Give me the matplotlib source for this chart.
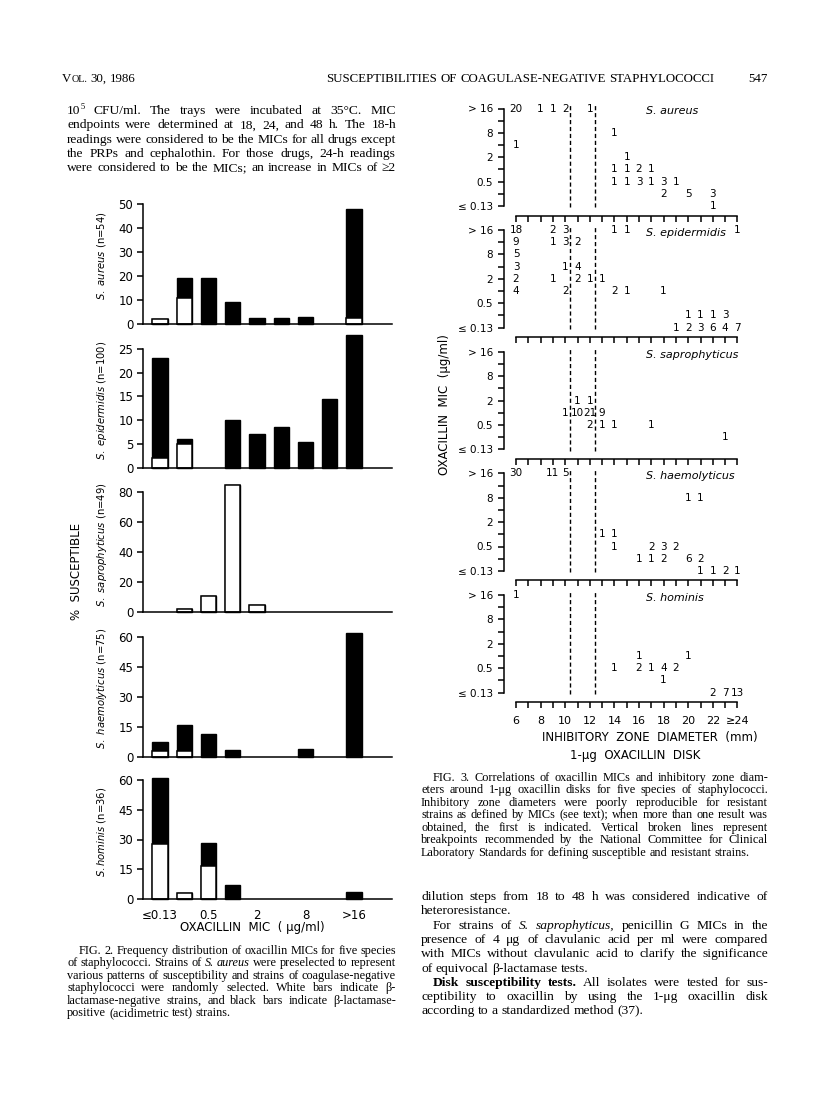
import matplotlib
matplotlib.use('Agg')
import matplotlib.pyplot as plt

W, H = 816, 1094
fig = plt.figure(figsize=(W / 100, H / 100), dpi=100)
fig.patch.set_facecolor('white')
renderer = fig.canvas.get_renderer()

SANS = 'DejaVu Sans'
SERIF = ['Liberation Serif', 'DejaVu Serif']

# ---------------- Fig. 2 data (% of strains) ----------------
mic_categories = ['≤0.13', '0.25', '0.5', '1', '2', '4', '8', '16', '>16']
fig2_tick_labels = ['≤0.13', '', '0.5', '', '2', '', '8', '', '>16']

aureus_total = [2, 19, 19, 9, 2.5, 2.5, 3, 0, 48]
aureus_white = [2, 11, 0, 0, 0, 0, 0, 0, 2.5]
epidermidis_total = [23, 6, 0, 10, 7, 8.5, 5.5, 14.5, 28]
epidermidis_white = [2, 5, 0, 0, 0, 0, 0, 0, 0]
saprophyticus_total = [0, 2.5, 11, 85, 5, 0, 0, 0, 0]
saprophyticus_white = [0, 2.5, 11, 85, 5, 0, 0, 0, 0]
haemolyticus_total = [7.5, 16, 11.5, 3.5, 0, 0, 4, 0, 62]
haemolyticus_white = [2.7, 2.7, 0, 0, 0, 0, 0, 0, 0]
hominis_total = [61, 3, 28, 7, 0, 0, 0, 0, 3.5]
hominis_white = [27.5, 3, 16.5, 0, 0, 0, 0, 0, 0]

fig2_species = [r'$\mathit{S.\ aureus}$ (n=54)', r'$\mathit{S.\ epidermidis}$ (n=100)',
                r'$\mathit{S.\ saprophyticus}$ (n=49)', r'$\mathit{S.\ haemolyticus}$ (n=75)',
                r'$\mathit{S.hominis}$ (n=36)']
fig2_ymax = [50, 25, 80, 60, 60]
fig2_ystep = [10, 5, 20, 15, 15]

# ---------------- Fig. 3 data (zone mm, MIC, number of strains) ----------------
aureus_zone = [6, 8, 9, 10, 12, 14, 6, 15, 14, 15, 16, 17, 14, 15, 16, 17, 18, 19, 18, 20, 22, 22]
aureus_mic = ['>16'] * 5 + ['8', '4', '2'] + ['1'] * 4 + ['0.5'] * 6 + ['0.25'] * 3 + ['≤0.13']
aureus_count = [20, 1, 1, 2, 1, 1, 1, 1, 1, 1, 2, 1, 1, 1, 3, 1, 3, 1, 2, 5, 3, 1]

epidermidis_zone = [6, 9, 10, 14, 15, 24, 6, 9, 10, 11, 6, 6, 10, 11, 6, 9, 11, 12, 13,
                    6, 10, 14, 15, 18, 20, 21, 22, 23, 19, 20, 21, 22, 23, 24]
epidermidis_mic = (['>16'] * 6 + ['16'] * 4 + ['8'] + ['4'] * 3 + ['2'] * 5 + ['1'] * 5
                   + ['0.25'] * 4 + ['≤0.13'] * 6)
epidermidis_count = [18, 2, 3, 1, 1, 1, 9, 1, 3, 2, 5, 3, 1, 4, 2, 1, 2, 1, 1,
                     4, 2, 2, 1, 1, 1, 1, 1, 3, 1, 2, 3, 6, 4, 7]

saprophyticus_zone = [11, 12, 10, 11, 12, 13, 12, 13, 14, 17, 23]
saprophyticus_mic = ['2'] * 2 + ['1'] * 4 + ['0.5'] * 4 + ['0.25']
saprophyticus_count = [1, 1, 1, 10, 21, 9, 2, 1, 1, 1, 1]

haemolyticus_zone = [6, 9, 10, 20, 21, 13, 14, 14, 17, 18, 19, 16, 17, 18, 20, 21, 21, 22, 23, 24]
haemolyticus_mic = (['>16'] * 3 + ['8'] * 2 + ['1'] * 2 + ['0.5'] * 4 + ['0.25'] * 5
                    + ['≤0.13'] * 4)
haemolyticus_count = [30, 11, 5, 1, 1, 1, 1, 1, 2, 3, 2, 1, 1, 2, 6, 2, 1, 1, 2, 1]

hominis_zone = [6, 16, 20, 14, 16, 17, 18, 19, 18, 22, 23, 24]
hominis_mic = ['>16'] + ['1'] * 2 + ['0.5'] * 5 + ['0.25'] + ['≤0.13'] * 3
hominis_count = [1, 1, 1, 1, 2, 1, 4, 2, 1, 2, 7, 13]

fig3_species = ['S. aureus', 'S. epidermidis', 'S. saprophyticus', 'S. haemolyticus', 'S. hominis']
fig3_ytick_labels = ['≤ 0.13', '', '0.5', '', '2', '', '8', '', '> 16']
zone_ticks = list(range(6, 25))
zone_tick_labels = ['6', '8', '10', '12', '14', '16', '18', '20', '22', '≥24']
breakpoints = [10.4, 12.4]

# ---------------- text ----------------
header_left = 'V~OL.~ 30, 1986'
header_mid = 'SUSCEPTIBILITIES OF COAGULASE-NEGATIVE STAPHYLOCOCCI'
header_page = '547'

left_body = [
    '10^5 CFU/ml. The trays were incubated at 35°C. MIC',
    'endpoints were determined at 18, 24, and 48 h. The 18-h',
    'readings were considered to be the MICs for all drugs except',
    'the PRPs and cephalothin. For those drugs, 24-h readings',
    'were considered to be the MICs; an increase in MICs of ≥2',
]
fig2_caption = [
    'FIG.  2.  Frequency distribution of oxacillin MICs for five species',
    'of staphylococci. Strains of _S. aureus_ were preselected to represent',
    'various patterns of susceptibility and strains of coagulase-negative',
    'staphylococci were randomly selected. White bars indicate β-',
    'lactamase-negative strains, and black bars indicate β-lactamase-',
    'positive (acidimetric test) strains.',
]
fig3_caption = [
    'FIG.  3.  Correlations of oxacillin MICs and inhibitory zone diam-',
    'eters around 1-μg oxacillin disks for five species of staphylococci.',
    'Inhibitory zone diameters were poorly reproducible for resistant',
    'strains as defined by MICs (see text); when more than one result was',
    'obtained, the first is indicated. Vertical broken lines represent',
    'breakpoints recommended by the National Committee for Clinical',
    'Laboratory Standards for defining susceptible and resistant strains.',
]
right_body = [
    'dilution steps from 18 to 48 h was considered indicative of',
    'heteroresistance.',
    'For strains of _S. saprophyticus,_ penicillin G MICs in the',
    'presence of 4 μg of clavulanic acid per ml were compared',
    'with MICs without clavulanic acid to clarify the significance',
    'of equivocal β-lactamase tests.',
    '*Disk susceptibility tests.* All isolates were tested for sus-',
    'ceptibility to oxacillin by using the 1-μg oxacillin disk',
    'according to a standardized method (37).',
]


# ---------------- helpers ----------------
def parse_line(s):
    words = []
    state = {'it': False, 'bd': False}
    for tok in s.split(' '):
        if tok == '':
            continue
        segs = []
        cur = ''
        sup = False
        small = False
        for ch in tok:
            if ch in '_*^~':
                if cur:
                    segs.append((cur, state['it'], state['bd'], sup, small))
                    cur = ''
                if ch == '_':
                    state['it'] = not state['it']
                elif ch == '*':
                    state['bd'] = not state['bd']
                elif ch == '^':
                    sup = True
                else:
                    small = not small
            else:
                cur += ch
        if cur:
            segs.append((cur, state['it'], state['bd'], sup, small))
        words.append(segs)
    return words


def draw_line(s, x0, x1, yc, size, justify=True, indent=0.0, family=SERIF, align='left'):
    words = parse_line(s)
    em = size * 100 / 72
    yb = yc + 0.30 * em
    items = []
    for segs in words:
        wt = []
        for (t, it, bd, sup, small) in segs:
            fs = size * (0.62 if sup else (0.78 if small else 1.0))
            txt = fig.text(0, 0, t, fontsize=fs, family=family,
                           style='italic' if it else 'normal',
                           weight='bold' if bd else 'normal',
                           va='baseline', ha='left', color='black')
            w = txt.get_window_extent(renderer).width
            wt.append((txt, w, sup))
        items.append(wt)
    word_w = [sum(w for _, w, _ in wt) for wt in items]
    n = len(items)
    space = 0.25 * em
    natural = sum(word_w) + space * (n - 1)
    if justify and n > 1:
        gap = (x1 - x0 - indent - sum(word_w)) / (n - 1)
        x = x0 + indent
    else:
        gap = space
        if align == 'left':
            x = x0 + indent
        elif align == 'right':
            x = x1 - natural
        else:
            x = (x0 + x1) / 2 - natural / 2
    for wt, ww in zip(items, word_w):
        xx = x
        for txt, w, sup in wt:
            dy = 0.40 * em if sup else 0.0
            txt.set_position((xx / W, 1 - (yb - dy) / H))
            xx += w
        x += ww + gap


def ptext(x, y, s, **kw):
    return fig.text(x / W, 1 - y / H, s, **kw)


# ---------------- page header & body text ----------------
draw_line(header_left, 62, 300, 78, 9.3, justify=False)
draw_line(header_mid, 300, 740, 78, 9.3, justify=False, align='center')
draw_line(header_page, 700, 768, 78, 9.3, justify=False, align='right')

LX0, LX1 = 67, 396
RX0, RX1 = 421, 768
BODY = 9.7
CAP = 8.8
for i, line in enumerate(left_body):
    draw_line(line, LX0, LX1, 110 + 14.3 * i, BODY)

for i, line in enumerate(fig2_caption):
    draw_line(line, LX0, LX1, 950 + 12.5 * i, CAP,
              justify=(i < len(fig2_caption) - 1), indent=12 if i == 0 else 0)

for i, line in enumerate(fig3_caption):
    draw_line(line, RX0, RX1, 777 + 12.5 * i, CAP,
              justify=(i < len(fig3_caption) - 1), indent=12 if i == 0 else 0)

last_lines = {1, 5, 8}
indents = {2: 12, 6: 12}
for i, line in enumerate(right_body):
    draw_line(line, RX0, RX1, 896 + 14.3 * i, BODY,
              justify=(i not in last_lines), indent=indents.get(i, 0))

# ---------------- Fig. 2 ----------------
fig2_totals = [aureus_total, epidermidis_total, saprophyticus_total, haemolyticus_total, hominis_total]
fig2_whites = [aureus_white, epidermidis_white, saprophyticus_white, haemolyticus_white, hominis_white]
fig2_base = [324, 467.7, 612.3, 756.7, 899]
fig2_top = [204, 349, 492.3, 636.7, 780]
BX0, BX1 = 143, 392
C0, DC = 160, 24.25
xs = list(range(len(mic_categories)))
for k in range(5):
    base, top = fig2_base[k], fig2_top[k]
    ax = fig.add_axes([BX0 / W, 1 - base / H, (BX1 - BX0) / W, (base - top) / H])
    ax.set_xlim((BX0 - C0) / DC, (BX1 - C0) / DC)
    ax.set_ylim(0, fig2_ymax[k])
    ax.patch.set_alpha(0)
    tot = fig2_totals[k]
    wh = fig2_whites[k]
    bx = [x for x, v in zip(xs, tot) if v > 0]
    bt = [v for v in tot if v > 0]
    ax.bar(bx, bt, width=0.62, color='black', edgecolor='black', linewidth=1.0, clip_on=False, zorder=2)
    wx = [x for x, v in zip(xs, wh) if v > 0]
    wv = [v for v in wh if v > 0]
    ax.bar(wx, wv, width=0.62, color='white', edgecolor='black', linewidth=1.1, clip_on=False, zorder=3)
    for sp in ['top', 'right']:
        ax.spines[sp].set_visible(False)
    ax.spines['left'].set_linewidth(1.1)
    ax.spines['bottom'].set_linewidth(1.1)
    ax.spines['bottom'].set_zorder(4)
    ax.set_yticks(list(range(0, fig2_ymax[k] + 1, fig2_ystep[k])))
    ax.tick_params(axis='y', direction='out', length=4, width=1.1, pad=3, labelsize=8.5)
    for lab in ax.get_yticklabels():
        lab.set_family(SANS)
    if k == 4:
        ax.set_xticks(xs)
        ax.set_xticklabels(fig2_tick_labels, fontsize=8.5, family=SANS)
        ax.tick_params(axis='x', length=0, pad=7)
    else:
        ax.set_xticks([])
    ptext(102, (base + top) / 2 - 8, fig2_species[k], rotation=90, ha='center', va='center',
          fontsize=7.2, family=SANS)

ptext(77, 571, '%  SUSCEPTIBLE', rotation=90, ha='center', va='center', fontsize=8.5, family=SANS)
ptext(252, 927, 'OXACILLIN  MIC  ( μg/ml)', ha='center', va='center', fontsize=8.5, family=SANS)

# ---------------- Fig. 3 ----------------
fig3_zones = [aureus_zone, epidermidis_zone, saprophyticus_zone, haemolyticus_zone, hominis_zone]
fig3_mics = [aureus_mic, epidermidis_mic, saprophyticus_mic, haemolyticus_mic, hominis_mic]
fig3_counts = [aureus_count, epidermidis_count, saprophyticus_count, haemolyticus_count, hominis_count]
fig3_tops = [108.5, 230, 351.7, 473.3, 595]
X6, PXMM = 516, 12.3
SX, RX = 504, 745
ROW = 12.2
for k in range(5):
    top = fig3_tops[k]
    axis_px = top + 8 * ROW + 9.5
    ax_top = top - 8
    ax = fig.add_axes([SX / W, 1 - axis_px / H, (RX - SX) / W, (axis_px - ax_top) / H])
    ax.set_xlim(6 + (SX - X6) / PXMM, 6 + (RX - X6) / PXMM)
    ax.set_ylim(-9.5 / ROW, 8 + 8 / ROW)
    ax.patch.set_alpha(0)
    for sp in ['top', 'right']:
        ax.spines[sp].set_visible(False)
    ax.spines['left'].set_bounds(0, 8)
    ax.spines['bottom'].set_bounds(6, 24)
    ax.spines['left'].set_linewidth(1.1)
    ax.spines['bottom'].set_linewidth(1.1)
    ax.set_yticks(list(range(9)))
    ax.set_yticklabels(fig3_ytick_labels, fontsize=7.5, family=SANS)
    ax.tick_params(axis='y', direction='out', length=4, width=1.1, pad=4)
    ax.set_xticks(zone_ticks)
    if k == 4:
        ax.set_xticklabels([zone_tick_labels[(z - 6) // 2] if z % 2 == 0 else '' for z in zone_ticks],
                           fontsize=8, family=SANS)
    else:
        ax.set_xticklabels([])
    ax.tick_params(axis='x', direction='out', length=4, width=1.1, pad=6)
    for bp in breakpoints:
        ax.plot([bp, bp], [-0.1, 8.3], color='black', lw=1.0, ls=(0, (3, 2)), clip_on=False)
    for z, m, c in zip(fig3_zones[k], fig3_mics[k], fig3_counts[k]):
        ax.text(z, mic_categories.index(m), str(c), ha='center', va='center',
                fontsize=7.5, family=SANS, clip_on=False)
    ptext(646, top + 3, fig3_species[k], ha='left', va='center', fontsize=8,
          family=SANS, style='italic')

ptext(445, 405, 'OXACILLIN  MIC  (μg/ml)', rotation=90, ha='center', va='center',
      fontsize=8.5, family=SANS)
ptext(650, 738, 'INHIBITORY  ZONE  DIAMETER  (mm)', ha='center', va='center', fontsize=8.5, family=SANS)
ptext(635, 756, '1-μg  OXACILLIN  DISK', ha='center', va='center', fontsize=8.5, family=SANS)

fig.savefig('out.png', dpi=100, facecolor='white')
